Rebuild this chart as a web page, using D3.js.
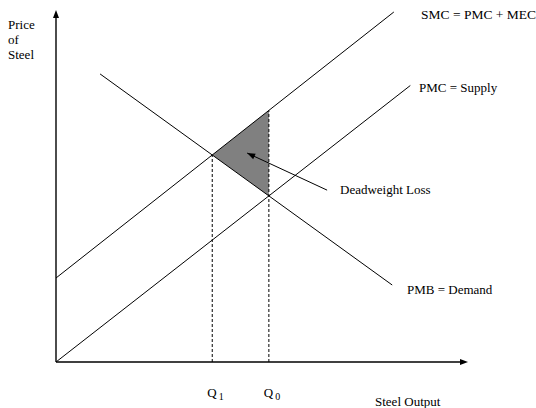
<!DOCTYPE html>
<html>
<head>
<meta charset="utf-8">
<script src="https://cdn.jsdelivr.net/npm/d3@7.9.0/dist/d3.min.js"></script>
<style>
  body { margin: 0; background: #fff; }
  svg text { font-family: "Times New Roman", "Liberation Serif", serif; font-size: 13px; fill: #000; }
</style>
</head>
<body>
<svg id="chart" width="536" height="408"></svg>
<script>
// ---- Data (quantity, price) in chart units ----
const smcLine = [[0, 2.4], [8.2, 10.0]];        // SMC = PMC + MEC
const pmcLine = [[0, 0], [8.6, 7.9]];           // PMC = Supply
const demandLine = [[1.07, 8.23], [8.16, 2.2]]; // PMB = Demand
const arrowLine = [[6.58, 4.91], [4.64, 5.97]]; // points at deadweight loss

const curveLabels = ['SMC = PMC + MEC', 'PMC = Supply', 'PMB = Demand'];
const qLabels = [['Q', '1'], ['Q', '0']];

// ---- Scales ----
const x = d3.scaleLinear().domain([0, 10]).range([56, 468]);
const y = d3.scaleLinear().domain([0, 10]).range([362, 12]);

const svg = d3.select('#chart');

// intersection of two segments' lines
function intersect(a, b) {
  const m1 = (a[1][1] - a[0][1]) / (a[1][0] - a[0][0]);
  const m2 = (b[1][1] - b[0][1]) / (b[1][0] - b[0][0]);
  const c1 = a[0][1] - m1 * a[0][0];
  const c2 = b[0][1] - m2 * b[0][0];
  const qx = (c2 - c1) / (m1 - m2);
  return [qx, m1 * qx + c1];
}
function valueAt(line, qx) {
  const m = (line[1][1] - line[0][1]) / (line[1][0] - line[0][0]);
  return line[0][1] + m * (qx - line[0][0]);
}

const q1 = intersect(smcLine, demandLine);
const q0 = intersect(pmcLine, demandLine);
const smcAtQ0 = [q0[0], valueAt(smcLine, q0[0])];

// ---- Deadweight loss triangle ----
svg.append('path')
  .attr('d', d3.line().x(d => x(d[0])).y(d => y(d[1]))([q1, smcAtQ0, q0]) + 'Z')
  .attr('fill', '#808080')
  .attr('stroke', 'none');

// ---- Dashed verticals ----
svg.append('line')
  .attr('x1', x(q1[0])).attr('x2', x(q1[0]))
  .attr('y1', y(0)).attr('y2', y(q1[1]))
  .attr('stroke', '#000').attr('stroke-dasharray', '3,2');
svg.append('line')
  .attr('x1', x(q0[0])).attr('x2', x(q0[0]))
  .attr('y1', y(0)).attr('y2', y(smcAtQ0[1]))
  .attr('stroke', '#000').attr('stroke-dasharray', '3,2');

// ---- Curves ----
[smcLine, pmcLine, demandLine].forEach((seg) => {
  svg.append('line')
    .attr('x1', x(seg[0][0])).attr('y1', y(seg[0][1]))
    .attr('x2', x(seg[1][0])).attr('y2', y(seg[1][1]))
    .attr('stroke', '#000').attr('stroke-width', 1);
});

// ---- Axes with arrowheads ----
svg.append('line')
  .attr('x1', x(0)).attr('y1', y(0)).attr('x2', x(0)).attr('y2', y(10) + 4)
  .attr('stroke', '#000').attr('stroke-width', 1.4);
svg.append('path')
  .attr('d', `M${x(0)},${y(10) - 2} l-3,8 l6,0 Z`)
  .attr('fill', '#000');
svg.append('line')
  .attr('x1', x(0)).attr('y1', y(0)).attr('x2', x(10) - 4).attr('y2', y(0))
  .attr('stroke', '#000').attr('stroke-width', 1.4);
svg.append('path')
  .attr('d', `M${x(10)},${y(0)} l-8,-3 l0,6 Z`)
  .attr('fill', '#000');

// ---- Arrow to deadweight loss ----
svg.append('line')
  .attr('x1', x(arrowLine[0][0])).attr('y1', y(arrowLine[0][1]))
  .attr('x2', x(arrowLine[1][0])).attr('y2', y(arrowLine[1][1]))
  .attr('stroke', '#000').attr('stroke-width', 1);
{
  const x1 = x(arrowLine[0][0]), y1 = y(arrowLine[0][1]);
  const x2 = x(arrowLine[1][0]), y2 = y(arrowLine[1][1]);
  const ang = Math.atan2(y2 - y1, x2 - x1);
  const len = 8, w = 3;
  const bx = x2 - len * Math.cos(ang), by = y2 - len * Math.sin(ang);
  svg.append('path')
    .attr('d', `M${x2},${y2} L${bx + w * Math.sin(ang)},${by - w * Math.cos(ang)} L${bx - w * Math.sin(ang)},${by + w * Math.cos(ang)} Z`)
    .attr('fill', '#000');
}

// ---- Text ----
svg.append('text').attr('x', 340).attr('y', 194).text('Deadweight Loss');
svg.append('text').attr('x', 421).attr('y', 19).style('font-size', '13.5px').text(curveLabels[0]);
svg.append('text').attr('x', 419).attr('y', 92).text(curveLabels[1]);
svg.append('text').attr('x', 407).attr('y', 294).text(curveLabels[2]);

['Price', 'of', 'Steel'].forEach((t, i) => {
  svg.append('text').attr('x', 8).attr('y', 29 + i * 15).text(t);
});

[q1, q0].forEach((pt, i) => {
  const t = svg.append('text').attr('x', x(pt[0]) - 5).attr('y', 397);
  t.append('tspan').text(qLabels[i][0]);
  t.append('tspan').attr('dx', 2).attr('dy', 3).style('font-size', '10px').text(qLabels[i][1]);
});

svg.append('text').attr('x', 375).attr('y', 406).text('Steel Output');
</script>
</body>
</html>
